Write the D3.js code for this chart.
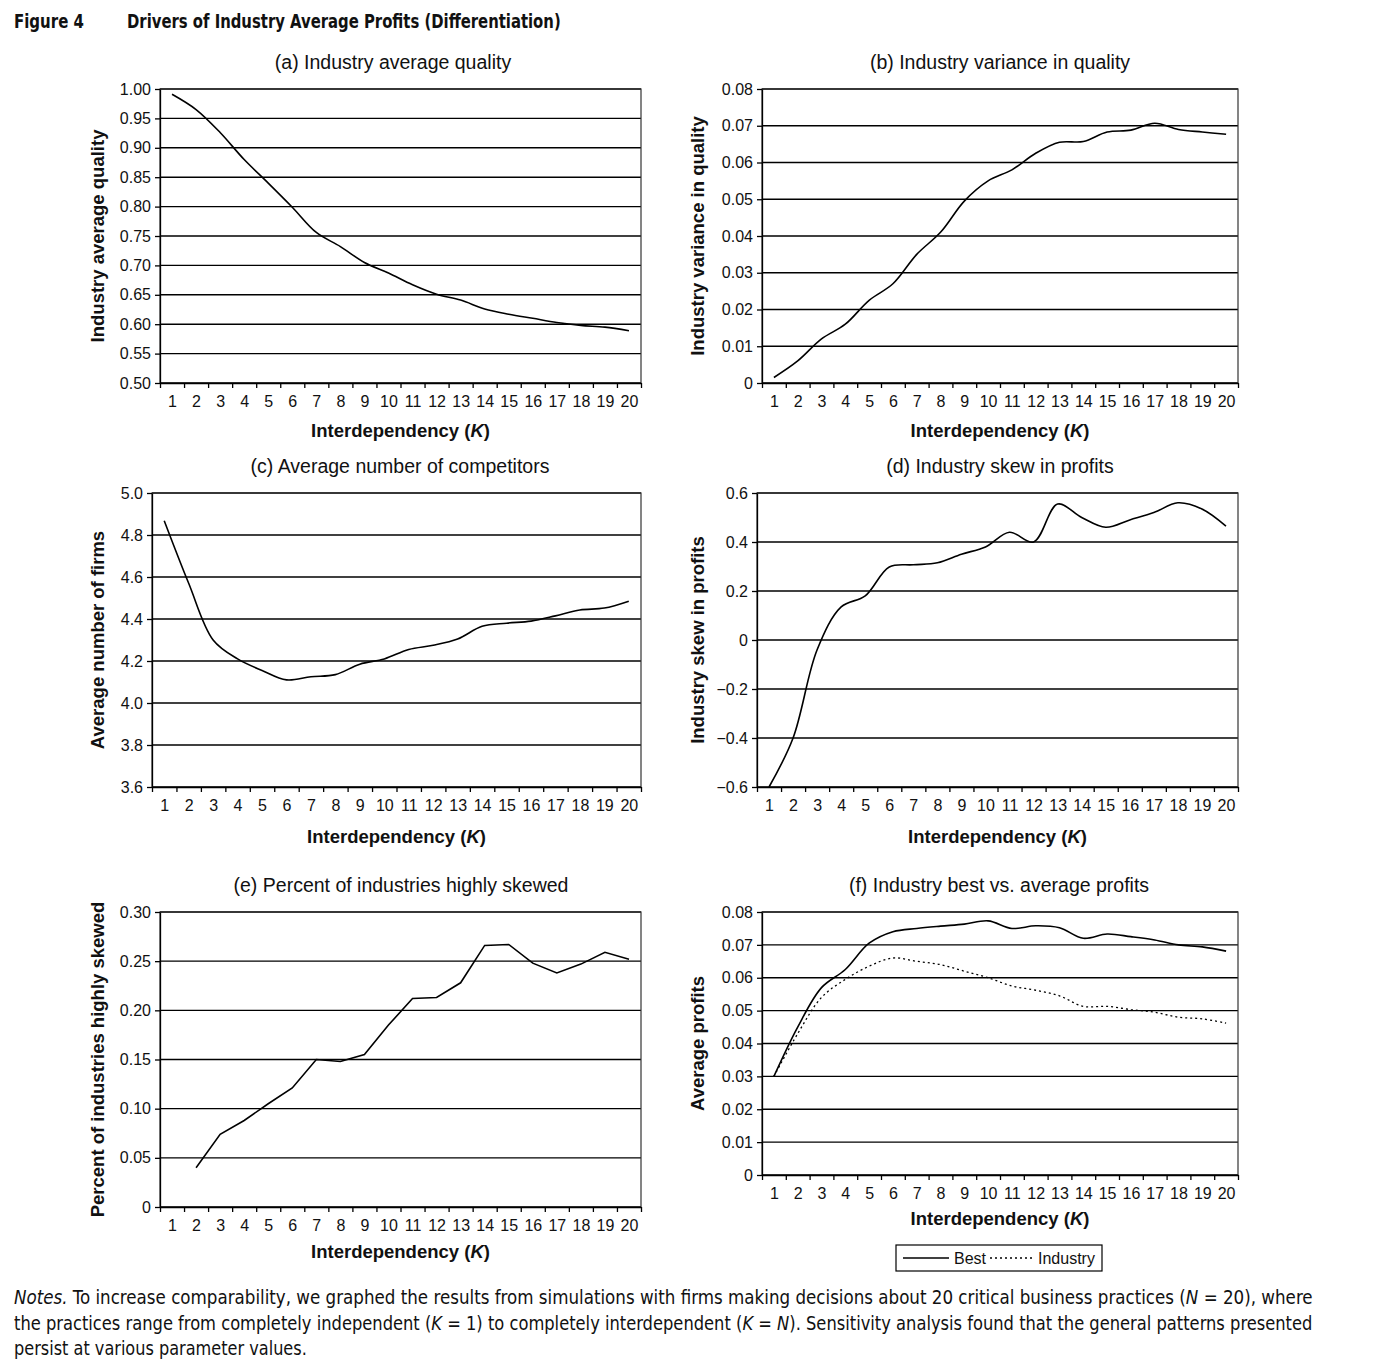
<!DOCTYPE html>
<html>
<head>
<meta charset="utf-8">
<script src="https://cdn.jsdelivr.net/npm/d3@7"></script>
<style>
  body { margin: 0; background: #fff; }
  svg { font-family: "Liberation Sans", Arial, sans-serif; }
  .narrow { font-family: "Liberation Sans Narrow", "DejaVu Sans Condensed", "Liberation Sans", sans-serif; font-stretch: condensed; }
</style>
</head>
<body>
<div id="fig"></div>
<script>
// K = 1..20 on every panel
var K = [1, 2, 3, 4, 5, 6, 7, 8, 9, 10, 11, 12, 13, 14, 15, 16, 17, 18, 19, 20]

// (a) industry average quality
var avgQuality = [0.991, 0.965, 0.926, 0.880, 0.840, 0.799, 0.756, 0.732, 0.705, 0.687,
                  0.667, 0.651, 0.641, 0.626, 0.617, 0.610, 0.603, 0.598, 0.595, 0.589]
var qualityTicks = [0.50, 0.55, 0.60, 0.65, 0.70, 0.75, 0.80, 0.85, 0.90, 0.95, 1.00]

// (b) industry variance in quality
var varQuality = [0.0015, 0.0060, 0.0120, 0.0160, 0.0225, 0.0270, 0.0350, 0.0410, 0.0495, 0.0550,
                  0.0580, 0.0625, 0.0655, 0.0657, 0.0683, 0.0688, 0.0707, 0.0690, 0.0683, 0.0677]
var varianceTicks = [0, 0.01, 0.02, 0.03, 0.04, 0.05, 0.06, 0.07, 0.08]

// (c) average number of competitors
var avgFirms = [4.868, 4.57, 4.30, 4.21, 4.155, 4.11, 4.125, 4.135, 4.185, 4.21,
                4.255, 4.275, 4.305, 4.365, 4.38, 4.39, 4.415, 4.443, 4.452, 4.485]
var firmsTicks = [3.6, 3.8, 4.0, 4.2, 4.4, 4.6, 4.8, 5.0]

// (d) industry skew in profits
var skewProfits = [-0.60, -0.40, -0.04, 0.135, 0.18, 0.298, 0.307, 0.315, 0.350, 0.380,
                   0.440, 0.400, 0.555, 0.500, 0.460, 0.490, 0.520, 0.560, 0.535, 0.465]
var skewTicks = [-0.6, -0.4, -0.2, 0, 0.2, 0.4, 0.6]

// (e) percent of industries highly skewed (no value at K = 1)
var skewedK = [2, 3, 4, 5, 6, 7, 8, 9, 10, 11, 12, 13, 14, 15, 16, 17, 18, 19, 20]
var pctSkewed = [0.040, 0.074, 0.088, 0.105, 0.121, 0.150, 0.148, 0.155, 0.185, 0.212,
                 0.213, 0.228, 0.266, 0.267, 0.248, 0.238, 0.247, 0.259, 0.252]
var pctTicks = [0, 0.05, 0.10, 0.15, 0.20, 0.25, 0.30]

// (f) best vs industry average profits
var bestProfits = [0.0300, 0.0450, 0.0570, 0.0625, 0.0705, 0.0740, 0.0750, 0.0757, 0.0763, 0.0773,
                   0.0750, 0.0758, 0.0752, 0.0720, 0.0733, 0.0725, 0.0715, 0.0700, 0.0694, 0.0681]
var industryProfits = [0.0300, 0.0430, 0.0540, 0.0595, 0.0635, 0.0660, 0.0650, 0.0640, 0.0620, 0.0600,
                       0.0575, 0.0562, 0.0545, 0.0513, 0.0513, 0.0503, 0.0495, 0.0480, 0.0475, 0.0462]
var profitTicks = [0, 0.01, 0.02, 0.03, 0.04, 0.05, 0.06, 0.07, 0.08]

var svg = d3.select("#fig").append("svg")
  .attr("width", 1382)
  .attr("height", 1364)

var fmt2 = v => v === 0 ? "0" : d3.format(".2f")(v)
var fmt1 = v => v === 0 ? "0" : d3.format(".1f")(v)

var smooth = d3.curveCatmullRom.alpha(0.5)

function panel(p) {
  var x = d3.scaleLinear().domain([0.5, 20.5]).range([p.left, p.right])
  var y = d3.scaleLinear().domain(p.domain).range([p.bottom, p.top])
  var g = svg.append("g")

  // gridlines
  g.selectAll(".grid")
    .data(p.ticks)
    .enter()
    .append("line")
    .attr("x1", p.left).attr("x2", p.right)
    .attr("y1", d => y(d)).attr("y2", d => y(d))
    .attr("stroke", "#000")
    .attr("stroke-width", 1.4)

  // frame
  g.append("rect")
    .attr("x", p.left).attr("y", p.top)
    .attr("width", p.right - p.left).attr("height", p.bottom - p.top)
    .attr("fill", "none")
    .attr("stroke", "#333")
    .attr("stroke-width", 1.2)

  // y axis
  var ya = g.append("g")
    .attr("transform", "translate(" + p.left + ",0)")
    .call(d3.axisLeft(y).tickValues(p.ticks).tickFormat(p.fmt).tickSize(5).tickSizeOuter(0).tickPadding(4))
  ya.attr("font-family", null).attr("font-size", 16)
  ya.selectAll("text").attr("fill", "#111")

  // x axis: labels at K, ticks at category boundaries
  var bounds = K.map(k => k - 0.5).concat([20.5])
  g.append("g")
    .attr("transform", "translate(0," + p.bottom + ")")
    .call(d3.axisBottom(x).tickValues(bounds).tickSize(5).tickSizeOuter(0).tickFormat(""))
  var xa = g.append("g")
    .attr("transform", "translate(0," + p.bottom + ")")
    .call(d3.axisBottom(x).tickValues(K).tickSize(0).tickPadding(12.5))
  xa.select(".domain").remove()
  xa.attr("font-family", null).attr("font-size", 16)
  xa.selectAll("text").attr("fill", "#111")
  g.selectAll(".domain, .tick line").attr("stroke", "#000").attr("stroke-width", 1.3)

  // series
  p.series.forEach(function (s) {
    var line = d3.line()
      .x((d, i) => x(s.k[i]))
      .y(d => y(d))
      .curve(s.curve || smooth)
    g.append("path")
      .datum(s.values)
      .attr("d", line)
      .attr("fill", "none")
      .attr("stroke", "#000")
      .attr("stroke-width", s.dash ? 1.3 : 1.6)
      .attr("stroke-dasharray", s.dash || null)
  })

  // titles
  g.append("text")
    .attr("x", p.titleX).attr("y", p.top - 20)
    .attr("text-anchor", "middle")
    .attr("font-size", 19.5)
    .attr("fill", "#111")
    .text(p.title)

  var xt = g.append("text")
    .attr("x", (p.left + p.right) / 2).attr("y", p.bottom + p.xTitleDy)
    .attr("text-anchor", "middle")
    .attr("font-size", 18.5)
    .attr("font-weight", "bold")
    .attr("fill", "#111")
  xt.append("tspan").text("Interdependency (")
  xt.append("tspan").attr("font-style", "italic").text("K")
  xt.append("tspan").text(")")

  g.append("text")
    .attr("transform", "translate(" + p.yTitleX + "," + ((p.top + p.bottom) / 2) + ") rotate(-90)")
    .attr("text-anchor", "middle")
    .attr("font-size", 18.5)
    .attr("font-weight", "bold")
    .attr("fill", "#111")
    .text(p.yTitle)
}

panel({ left: 160, right: 641, top: 89, bottom: 383, domain: [0.5, 1.0], ticks: qualityTicks, fmt: d3.format(".2f"),
  title: "(a) Industry average quality", titleX: 393, xTitleDy: 54, yTitleX: 104, yTitle: "Industry average quality",
  series: [{ k: K, values: avgQuality }] })

panel({ left: 762, right: 1238, top: 89, bottom: 383, domain: [0, 0.08], ticks: varianceTicks, fmt: fmt2,
  title: "(b) Industry variance in quality", titleX: 1000, xTitleDy: 54, yTitleX: 704, yTitle: "Industry variance in quality",
  series: [{ k: K, values: varQuality }] })

panel({ left: 152, right: 641, top: 493, bottom: 787, domain: [3.6, 5.0], ticks: firmsTicks, fmt: d3.format(".1f"),
  title: "(c) Average number of competitors", titleX: 400, xTitleDy: 56, yTitleX: 104, yTitle: "Average number of firms",
  series: [{ k: K, values: avgFirms }] })

panel({ left: 757, right: 1238, top: 493, bottom: 787, domain: [-0.6, 0.6], ticks: skewTicks, fmt: fmt1,
  title: "(d) Industry skew in profits", titleX: 1000, xTitleDy: 56, yTitleX: 704, yTitle: "Industry skew in profits",
  series: [{ k: K, values: skewProfits }] })

panel({ left: 160, right: 641, top: 912, bottom: 1207, domain: [0, 0.30], ticks: pctTicks, fmt: fmt2,
  title: "(e) Percent of industries highly skewed", titleX: 401, xTitleDy: 51, yTitleX: 104, yTitle: "Percent of industries highly skewed",
  series: [{ k: skewedK, values: pctSkewed, curve: d3.curveLinear }] })

panel({ left: 762, right: 1238, top: 912, bottom: 1175, domain: [0, 0.08], ticks: profitTicks, fmt: fmt2,
  title: "(f) Industry best vs. average profits", titleX: 999, xTitleDy: 50, yTitleX: 704, yTitle: "Average profits",
  series: [{ k: K, values: bestProfits }, { k: K, values: industryProfits, dash: "2,3" }] })

// legend for (f)
var lg = svg.append("g")
lg.append("rect").attr("x", 896).attr("y", 1245).attr("width", 206).attr("height", 26)
  .attr("fill", "#fff").attr("stroke", "#000").attr("stroke-width", 1.2)
lg.append("line").attr("x1", 903).attr("x2", 949).attr("y1", 1258).attr("y2", 1258)
  .attr("stroke", "#000").attr("stroke-width", 1.6)
lg.append("text").attr("x", 954).attr("y", 1264).attr("font-size", 16).attr("fill", "#111").text("Best")
lg.append("line").attr("x1", 990).attr("x2", 1034).attr("y1", 1258).attr("y2", 1258)
  .attr("stroke", "#000").attr("stroke-width", 1.3).attr("stroke-dasharray", "2,3")
lg.append("text").attr("x", 1038).attr("y", 1264).attr("font-size", 16).attr("fill", "#111").text("Industry")

// condensed text: squeeze horizontally to the printed width
function fitText(t, x, y, width) {
  var w = t.node().getComputedTextLength()
  t.attr("transform", "translate(" + x + "," + y + ") scale(" + (width / w) + ",1)")
}

// figure header
var h1 = svg.append("text").attr("class", "narrow")
  .attr("font-size", 20).attr("font-weight", "bold").attr("fill", "#111")
  .text("Figure 4")
fitText(h1, 14, 28, 70)
var h2 = svg.append("text").attr("class", "narrow")
  .attr("font-size", 20).attr("font-weight", "bold").attr("fill", "#111")
  .text("Drivers of Industry Average Profits (Differentiation)")
fitText(h2, 127, 28, 434)

// notes
var notes = [
  [["Notes.", 1], [" To increase comparability, we graphed the results from simulations with firms making decisions about 20 critical business practices (", 0], ["N", 1], [" = 20), where", 0]],
  [["the practices range from completely independent (", 0], ["K", 1], [" = 1) to completely interdependent (", 0], ["K", 1], [" = ", 0], ["N", 1], ["). Sensitivity analysis found that the general patterns presented", 0]],
  [["persist at various parameter values.", 0]]
]
var noteLen = [1299, 1299, 293]
notes.forEach(function (parts, i) {
  var t = svg.append("text").attr("class", "narrow")
    .attr("font-size", 20).attr("fill", "#111")
  parts.forEach(function (pt) {
    t.append("tspan").attr("font-style", pt[1] ? "italic" : null).text(pt[0])
  })
  fitText(t, 14, 1304 + i * 25.5, noteLen[i])
})
</script>
</body>
</html>
